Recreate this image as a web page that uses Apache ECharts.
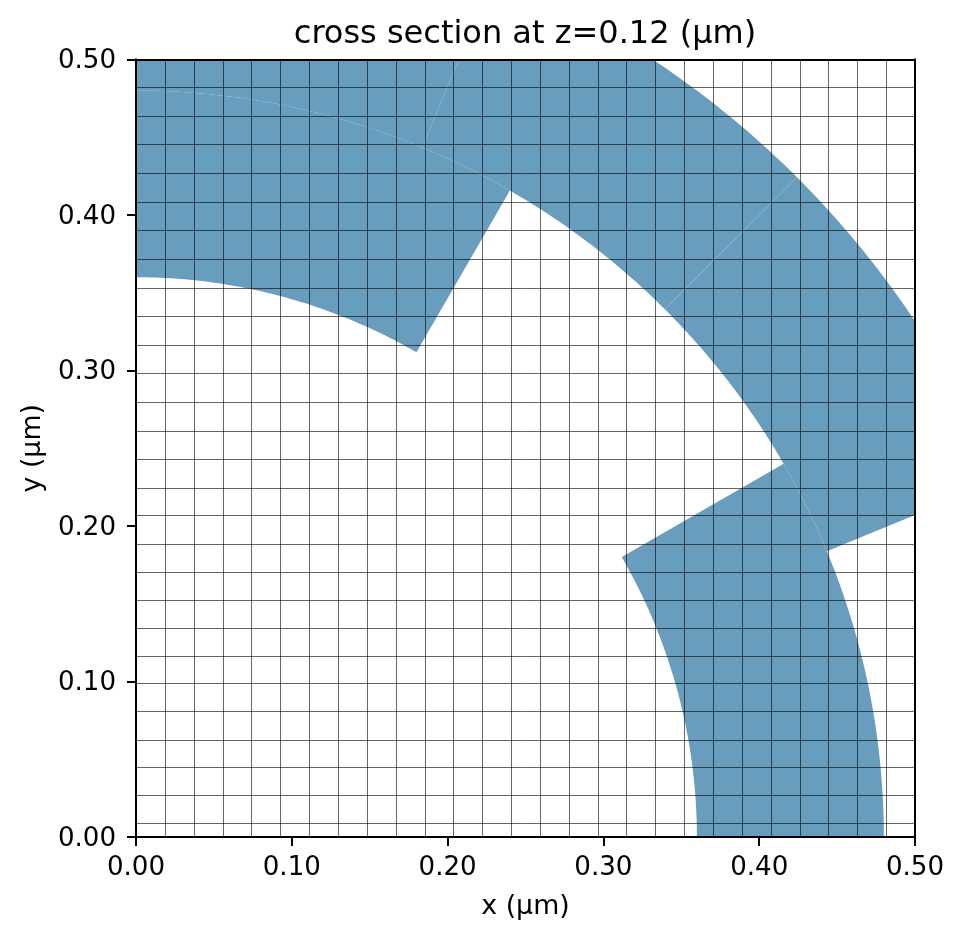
<!DOCTYPE html>
<html lang="en">
<head>
    <meta charset="UTF-8">
    <title>cross section</title>
    <script src="https://cdn.jsdelivr.net/npm/echarts@6/dist/echarts.min.js"></script>
    <style>
        html, body { margin: 0; padding: 0; background: #fff; }
        #chart { width: 963px; height: 940px; }
    </style>
</head>
<body>
<div id="chart"></div>
<script>
    // ring pieces, radii in um and angles in degrees
    var sectorInner = [0.36, 0.48, 0.48, 0.48, 0.36]
    var sectorOuter = [0.48, 0.60, 0.60, 0.60, 0.48]
    var sectorFrom = [60, 67.5, 45, 22.5, 0]
    var sectorTo = [90, 90, 67.5, 45, 30]

    // mesh lines, y spacing is not quite even
    var xMesh = [0.0185, 0.0370, 0.0556, 0.0741, 0.0926, 0.1111, 0.1296, 0.1481, 0.1667,
        0.1852, 0.2037, 0.2222, 0.2407, 0.2593, 0.2778, 0.2963, 0.3148, 0.3333,
        0.3519, 0.3704, 0.3889, 0.4074, 0.4259, 0.4444, 0.4630, 0.4815]
    var yMesh = [0.0088, 0.0268, 0.0448, 0.0627, 0.0808, 0.0988, 0.1167, 0.1347, 0.1527,
        0.1707, 0.1887, 0.2068, 0.2246, 0.2433, 0.2613, 0.2799, 0.2987, 0.3167,
        0.3352, 0.3533, 0.3719, 0.3906, 0.4085, 0.4272, 0.4458, 0.4638, 0.4825]

    var axisMin = 0
    var axisMax = 0.5
    var axisStep = 0.1

    var font = "DejaVu Sans"
    var fill = "#689dbd"

    function sectorItem(params, api) {
        var r0 = api.value(0), r1 = api.value(1), t0 = api.value(2), t1 = api.value(3)
        var points = []
        var n = Math.round((t1 - t0) / 0.5)
        for (var i = 0; i <= n; i++) {
            var a = (t0 + i * 0.5) * Math.PI / 180
            points.push(api.coord([r1 * Math.cos(a), r1 * Math.sin(a)]))
        }
        for (var j = n; j >= 0; j--) {
            var b = (t0 + j * 0.5) * Math.PI / 180
            points.push(api.coord([r0 * Math.cos(b), r0 * Math.sin(b)]))
        }
        return {type: "polygon", shape: {points: points}, style: {fill: fill, stroke: null}}
    }

    function meshItem(vertical) {
        return function (params, api) {
            var v = api.value(0)
            var p0 = api.coord(vertical ? [v, axisMin] : [axisMin, v])
            var p1 = api.coord(vertical ? [v, axisMax] : [axisMax, v])
            var shape = vertical
                ? {x1: Math.round(p0[0]) + 0.5, y1: p0[1], x2: Math.round(p0[0]) + 0.5, y2: p1[1]}
                : {x1: p0[0], y1: Math.round(p0[1]) + 0.5, x2: p1[0], y2: Math.round(p0[1]) + 0.5}
            return {type: "line", shape: shape, style: {stroke: "rgba(0,0,0,0.6)", lineWidth: 1}}
        }
    }

    function baseAxis(name, gap, margin, labelExtra) {
        return {
            type: "value", min: axisMin, max: axisMax, interval: axisStep, z: 5,
            name: name, nameLocation: "middle", nameGap: gap,
            nameTextStyle: {fontFamily: font, fontSize: 26.8, color: "#000"},
            axisLine: {show: true, onZero: false, lineStyle: {color: "#000", width: 2, cap: "square"}},
            axisTick: {show: true, length: 9, lineStyle: {color: "#000", width: 2}},
            axisLabel: Object.assign({
                show: true, margin: margin, fontFamily: font, fontSize: 26.1, color: "#000",
                showMinLabel: true, showMaxLabel: true, hideOverlap: false,
                formatter: function (v) { return v.toFixed(2) }
            }, labelExtra),
            splitLine: {show: false}
        }
    }

    function edgeAxis(position) {
        return {
            type: "value", min: axisMin, max: axisMax, interval: axisStep, z: 5, position: position,
            axisLine: {show: true, onZero: false, lineStyle: {color: "#000", width: 2, cap: "square"}},
            axisTick: {show: false}, axisLabel: {show: false}, splitLine: {show: false}
        }
    }

    var chart = echarts.init(document.getElementById("chart"), null, {renderer: "canvas"})
    chart.setOption({
        animation: false,
        backgroundColor: "#fff",
        title: {
            text: "cross section at z=0.12 (\u00b5m)", left: 520, top: 14, textAlign: "center",
            textStyle: {fontFamily: font, fontSize: 32, fontWeight: "normal", color: "#000"}
        },
        grid: {left: 136, top: 59.5, width: 779, height: 777.5, containLabel: false},
        xAxis: [
            Object.assign(baseAxis("x (\u00b5m)", 57, 18, {}), {position: "bottom"}),
            edgeAxis("top")
        ],
        yAxis: [
            Object.assign(baseAxis("y (\u00b5m)", 87, 20, {verticalAlign: "top", lineHeight: 4}), {position: "left"}),
            edgeAxis("right")
        ],
        series: [
            {
                type: "custom", clip: true, silent: true, z: 2, renderItem: sectorItem,
                data: sectorInner.map(function (r, i) {
                    return [r, sectorOuter[i], sectorFrom[i], sectorTo[i]]
                })
            },
            {
                type: "custom", clip: true, silent: true, z: 3, renderItem: meshItem(true),
                data: xMesh.map(function (v) { return [v] })
            },
            {
                type: "custom", clip: true, silent: true, z: 3, renderItem: meshItem(false),
                data: yMesh.map(function (v) { return [v] })
            }
        ]
    })
</script>
</body>
</html>
